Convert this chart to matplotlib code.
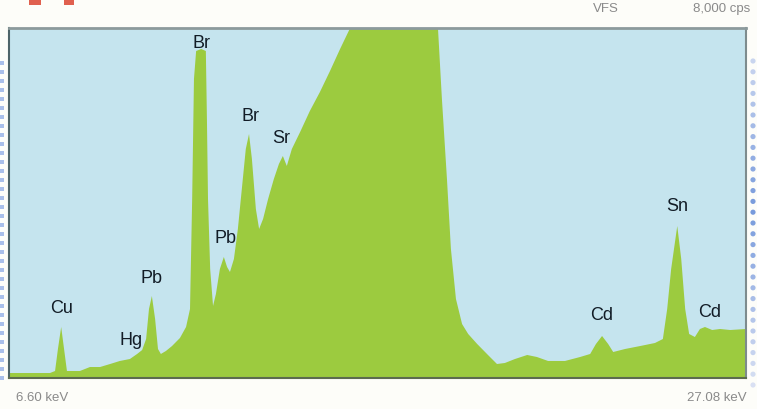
import numpy as np
import matplotlib
matplotlib.use("Agg")
import matplotlib.pyplot as plt
from matplotlib.patches import Rectangle

# spectrum: energy (keV) and counts (cps)
energy_kev = [6.60, 7.74, 7.88, 7.96, 8.05, 8.13, 8.21, 8.57, 8.85, 9.13,
              9.41, 9.68, 9.96, 10.16, 10.30, 10.41, 10.49, 10.57, 10.66, 10.74,
              10.82, 10.96, 11.13, 11.35, 11.52, 11.63, 11.69, 11.74, 11.80, 11.94,
              12.07, 12.10, 12.13, 12.19, 12.27, 12.35, 12.46, 12.57, 12.66, 12.74,
              12.85, 12.96, 13.07, 13.18, 13.27, 13.35, 13.46, 13.55, 13.66, 13.80,
              13.96, 14.10, 14.21, 14.32, 14.46, 14.69, 14.96, 15.24, 15.52, 15.80,
              16.08, 16.40, 16.90, 17.40, 18.00, 18.35, 18.48, 18.52, 18.63, 18.77,
              18.88, 19.02, 19.19, 19.36, 19.61, 19.91, 20.16, 20.38, 20.66, 21.00,
              21.27, 21.58, 22.05, 22.47, 22.75, 22.91, 23.08, 23.25, 23.39, 23.72,
              24.14, 24.55, 24.77, 24.89, 25.00, 25.17, 25.28, 25.39, 25.50, 25.66,
              25.80, 25.94, 26.14, 26.36, 26.64, 27.08]
counts_cps = [114, 114, 160, 663, 1166, 663, 160, 160, 251, 251,
              320, 389, 434, 549, 640, 891, 1577, 1874, 1349, 663,
              549, 617, 731, 914, 1166, 1577, 4091, 6834, 7474, 7520,
              7474, 5920, 4091, 2491, 1646, 1920, 2491, 2766, 2537, 2423,
              2720, 3406, 4320, 5234, 5577, 5006, 3863, 3406, 3634, 4091,
              4549, 4891, 5074, 4846, 5234, 5623, 6103, 6537, 7017, 7520,
              8000, 8700, 9700, 10500, 10800, 10200, 9200, 8000, 6377, 4549,
              2949, 1806, 1234, 1006, 777, 526, 320, 343, 434, 526,
              480, 389, 389, 480, 549, 777, 960, 777, 594, 663,
              731, 800, 891, 1577, 2491, 3474, 2720, 1577, 1006, 937,
              1120, 1166, 1097, 1120, 1097, 1120]

# element labels and where they sit (keV, cps)
labels = ["Cu", "Hg", "Pb", "Br", "Pb", "Br", "Sr", "Cd", "Sn", "Cd"]
label_kev = [8.05, 9.99, 10.57, 11.94, 12.63, 13.32, 14.16, 23.08, 25.17, 26.08]
label_cps = [1600, 870, 2300, 7670, 3200, 5990, 5490, 1440, 3950, 1530]

e_min, e_max = 6.60, 27.08
full_scale = 8000

fig = plt.figure(figsize=(7.57, 4.10), dpi=100)
fig.patch.set_facecolor("#fdfdf9")

ax = fig.add_axes([9 / 757, 31 / 410, 737 / 757, 350 / 410])
ax.set_facecolor("#c5e4ee")
ax.fill_between(energy_kev, counts_cps, 0, color="#9ccb3f", linewidth=0)
ax.set_xlim(e_min, e_max)
ax.set_ylim(0, full_scale)
ax.set_xticks([])
ax.set_yticks([])
ax.spines["left"].set_color("#4d6469")
ax.spines["left"].set_linewidth(1.5)
ax.spines["top"].set_color("#8c9a9c")
ax.spines["top"].set_linewidth(2)
ax.spines["right"].set_color("#7d8b8d")
ax.spines["right"].set_linewidth(1.5)
ax.spines["bottom"].set_color("#5c6b4e")
ax.spines["bottom"].set_linewidth(1.5)

for name, x, y in zip(labels, label_kev, label_cps):
    ax.text(x, y, name, ha="center", va="center", fontsize=13,
            family=["Liberation Sans", "DejaVu Sans"], color="#121c26")

small = dict(fontsize=9.5, color="#8a8a8a",
             family=["Liberation Sans Narrow", "Liberation Sans", "DejaVu Sans"])
fig.text(16 / 757, 1 - 398 / 410, "%.2f keV" % e_min, ha="left", va="center", **small)
fig.text(747 / 757, 1 - 398 / 410, "%.2f keV" % e_max, ha="right", va="center", **small)
fig.text(606 / 757, 1 - 9 / 410, "VFS", ha="center", va="center", **small)
fig.text(750 / 757, 1 - 9 / 410, "{:,} cps".format(full_scale), ha="right", va="center", **small)

# decorations around the panel (page bits cut off in the screenshot)
over = fig.add_axes([0, 0, 1, 1], facecolor="none")
over.set_xlim(0, 757)
over.set_ylim(410, 0)
over.axis("off")
over.add_patch(Rectangle((29, 0), 12, 6, color="#e0604f", lw=0))
over.add_patch(Rectangle((64, 0), 10, 6, color="#e0604f", lw=0))

ly = np.arange(64, 386, 9)
over.scatter(np.full(len(ly), 1.5), ly, s=5, marker="s", color="#a9bfea", lw=0)

ry = np.arange(62, 395, 10.8)
shade = 1 - np.abs(ry - 210) / 190
cols = [(0.88 - 0.42 * t, 0.90 - 0.30 * t, 0.96 - 0.10 * t) for t in np.clip(shade, 0, 1)]
over.scatter(np.full(len(ry), 753), ry, s=14, color=cols, lw=0)

fig.savefig("out.png", dpi=100, facecolor=fig.get_facecolor())
